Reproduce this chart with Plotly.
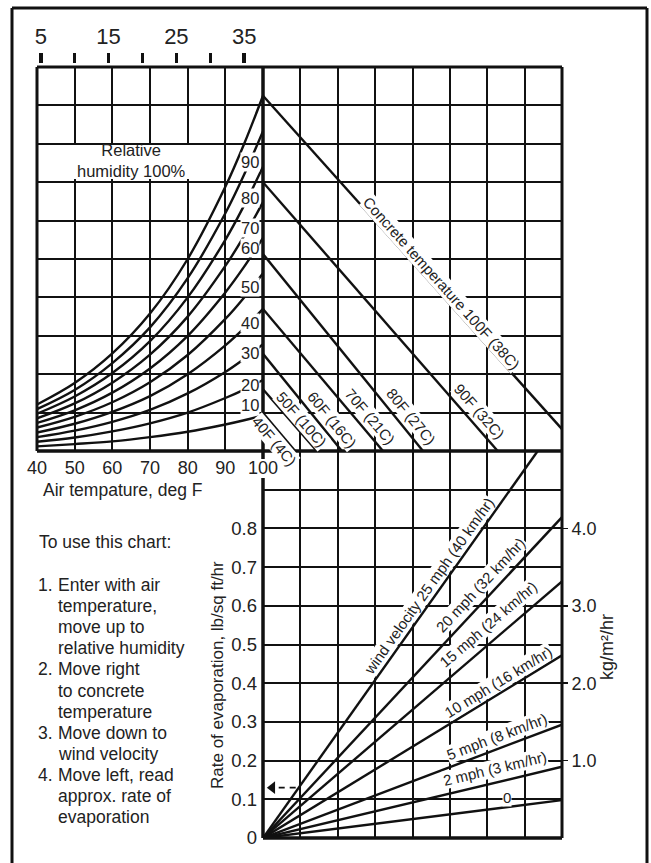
import math
import plotly.graph_objects as go

# ---------------- data ----------------
air_temp_f = [40, 50, 60, 70, 80, 90, 95, 100]          # deg F, upper-left x axis
air_ticks_f = [40, 50, 60, 70, 80, 90, 100]
celsius_ticks = [5, 10, 15, 20, 25, 30, 35]
celsius_labels = ["5", "", "15", "", "25", "", "35"]

# vapour-pressure curves (psi) for each relative humidity
vp_rh100 = [0.121, 0.177, 0.254, 0.358, 0.500, 0.688, 0.800, 0.925]
vp_rh90 = [0.109, 0.159, 0.229, 0.322, 0.450, 0.619, 0.720, 0.833]
vp_rh80 = [0.097, 0.142, 0.203, 0.286, 0.400, 0.550, 0.640, 0.740]
vp_rh70 = [0.085, 0.124, 0.178, 0.251, 0.350, 0.482, 0.560, 0.648]
vp_rh60 = [0.073, 0.106, 0.152, 0.215, 0.300, 0.413, 0.480, 0.555]
vp_rh50 = [0.061, 0.089, 0.127, 0.179, 0.250, 0.344, 0.400, 0.463]
vp_rh40 = [0.048, 0.071, 0.102, 0.143, 0.200, 0.275, 0.320, 0.370]
vp_rh30 = [0.036, 0.053, 0.076, 0.107, 0.150, 0.206, 0.240, 0.278]
vp_rh20 = [0.024, 0.035, 0.051, 0.072, 0.100, 0.138, 0.160, 0.185]
vp_rh10 = [0.012, 0.018, 0.025, 0.036, 0.050, 0.069, 0.080, 0.093]
rh_labels = ["90", "80", "70", "60", "50", "40", "30", "20", "10"]

# concrete temperature lines (start on 100F line, end on bottom / right edge)
concrete_labels = ["40F (4C)", "50F (10C)", "60F (16C)", "70F (21C)", "80F (27C)",
                   "90F (32C)", "Concrete temperature 100F (38C)"]
concrete_start_vp = [0.099, 0.161, 0.253, 0.370, 0.513, 0.700, 0.925]
concrete_end_col = [0.86, 1.44, 2.11, 3.21, 4.28, 6.28, 8.0]
concrete_end_vp = [0.0, 0.0, 0.0, 0.0, 0.0, 0.0, 0.057]

# wind velocity lines (lower chart), from origin
wind_labels = ["0", "2 mph (3 km/hr)", "5 mph (8 km/hr)", "10 mph (16 km/hr)",
               "15 mph (24 km/hr)", "20 mph (32 km/hr)", "wind velocity 25 mph (40 km/hr)"]
wind_end_col = [8.0, 8.0, 8.0, 8.0, 8.0, 8.0, 7.35]
wind_end_rate = [0.098, 0.184, 0.293, 0.472, 0.663, 0.829, 1.0]

rate_ticks = [0, 0.1, 0.2, 0.3, 0.4, 0.5, 0.6, 0.7, 0.8, 0.9, 1.0]
rate_labels = ["0", "0.1", "0.2", "0.3", "0.4", "0.5", "0.6", "0.7", "0.8", "", ""]
kg_ticks = [1, 2, 3, 4]
kg_labels = ["1.0", "2.0", "3.0", "4.0"]
example_rate = 0.13

instr_numbers = ["1.", "2.", "3.", "4."]
instr_lines = [["Enter with air", "temperature,", "move up to", "relative humidity"],
               ["Move right", "to concrete", "temperature"],
               ["Move down to", "wind velocity"],
               ["Move left, read", "approx. rate of", "evaporation"]]

# ---------------- layout constants ----------------
W, H = 651, 863
X_L, X_M, X_R = 37, 263, 562
Y_T, Y_M, Y_B = 67, 451, 838
FONT = "Liberation Sans, Arial, Helvetica, sans-serif"
INK = "#111111"
TXT = "#222222"


def fx(px):
    return px / W


def fy(py):
    return 1 - py / H


PX_PER_COL = (X_R - X_M) / 8.0
PX_PER_PSI = (Y_M - Y_T) / 1.0
PX_PER_RATE = (Y_B - Y_M) / 1.0

fig = go.Figure()

# RH curves
for vals in [vp_rh100, vp_rh90, vp_rh80, vp_rh70, vp_rh60, vp_rh50, vp_rh40, vp_rh30, vp_rh20, vp_rh10]:
    fig.add_trace(go.Scatter(x=air_temp_f, y=vals, mode="lines", xaxis="x", yaxis="y",
                             line=dict(color=INK, width=2.4, shape="spline"),
                             hoverinfo="skip", showlegend=False))

# concrete temperature lines
for s, ex, ev in zip(concrete_start_vp, concrete_end_col, concrete_end_vp):
    fig.add_trace(go.Scatter(x=[0, ex], y=[s, ev], mode="lines", xaxis="x2", yaxis="y",
                             line=dict(color=INK, width=2.4), hoverinfo="skip", showlegend=False))

# wind lines
for ex, er in zip(wind_end_col, wind_end_rate):
    fig.add_trace(go.Scatter(x=[0, ex], y=[0, er], mode="lines", xaxis="x2", yaxis="y2",
                             line=dict(color=INK, width=2.4), hoverinfo="skip", showlegend=False))

# example arrow (dashed) on the rate axis
fig.add_trace(go.Scatter(x=[0.42, 0.95], y=[example_rate, example_rate], mode="lines",
                         xaxis="x2", yaxis="y2", line=dict(color=INK, width=1.8, dash="6px,5px"),
                         hoverinfo="skip", showlegend=False))
fig.add_trace(go.Scatter(x=[0.25], y=[example_rate], mode="markers", xaxis="x2", yaxis="y2",
                         marker=dict(symbol="triangle-left", size=11, color=INK),
                         hoverinfo="skip", showlegend=False))

# invisible helpers so overlay axes are drawn
fig.add_trace(go.Scatter(x=[20], y=[0.5], mode="markers", xaxis="x3", yaxis="y",
                         marker=dict(opacity=0), hoverinfo="skip", showlegend=False))
fig.add_trace(go.Scatter(x=[4], y=[2], mode="markers", xaxis="x2", yaxis="y3",
                         marker=dict(opacity=0), hoverinfo="skip", showlegend=False))

grid = dict(showgrid=True, gridcolor=INK, gridwidth=2, zeroline=False, showline=False,
            automargin=False)

fig.update_layout(
    width=W, height=H, autosize=False,
    margin=dict(l=0, r=0, t=0, b=0, pad=0, autoexpand=False),
    paper_bgcolor="white", plot_bgcolor="white", showlegend=False,
    font=dict(family=FONT, color=TXT),
    xaxis=dict(domain=[fx(X_L), fx(X_M)], range=[40, 100], anchor="y",
               tickvals=air_ticks_f, ticktext=[str(v) for v in air_ticks_f],
               ticks="", ticklabelstandoff=4, tickfont=dict(size=18, color=TXT), **grid),
    yaxis=dict(domain=[fy(Y_M), fy(Y_T)], range=[0, 1.0], anchor="x",
               tickvals=[0.1 * i for i in range(1, 10)], showticklabels=False, ticks="", **grid),
    xaxis2=dict(domain=[fx(X_M), fx(X_R)], range=[0, 8], anchor="y2",
                tickvals=list(range(1, 8)), showticklabels=False, ticks="", **grid),
    yaxis2=dict(domain=[fy(Y_B), fy(Y_M)], range=[0, 1.0], anchor="x2",
                tickvals=rate_ticks, ticktext=rate_labels, ticks="", ticklabelstandoff=5,
                tickfont=dict(size=18.5, color=TXT), **grid),
    xaxis3=dict(overlaying="x", range=[(40 - 32) / 1.8, (100 - 32) / 1.8], side="top",
                anchor="free", position=fy(63), tickvals=celsius_ticks, ticktext=celsius_labels,
                ticks="outside", ticklen=10, tickwidth=3.5, tickcolor=INK, automargin=False,
                tickfont=dict(size=22, color=TXT), showgrid=False, zeroline=False, showline=False),
    yaxis3=dict(overlaying="y2", side="right", anchor="x2", range=[0, 5.0],
                tickvals=kg_ticks, ticktext=kg_labels, ticks="outside", ticklen=5, tickwidth=1.5,
                tickcolor=INK, tickfont=dict(size=18, color=TXT), automargin=False,
                showgrid=False, zeroline=False, showline=False),
)

shapes = []


def pline(x0, y0, x1, y1, w=3):
    shapes.append(dict(type="line", xref="paper", yref="paper", x0=fx(x0), y0=fy(y0),
                       x1=fx(x1), y1=fy(y1), line=dict(color=INK, width=w)))


# white patch behind "Relative humidity 100%"
shapes.append(dict(type="rect", xref="paper", yref="paper", x0=fx(66), x1=fx(203),
                   y0=fy(179), y1=fy(145), fillcolor="white", line=dict(width=0), layer="above"))
# outer frame
pline(12, 8, 12, 863, 3)
pline(12, 8, 647, 8, 3)
pline(647, 8, 647, 863, 3)
# upper chart border
pline(X_L, Y_T, X_R, Y_T, 3)
pline(X_L, Y_T, X_L, Y_M, 3)
pline(X_R, Y_T, X_R, Y_M, 3)
pline(X_L, Y_M, X_R, Y_M, 3.5)
# 100F line (with tick below)
pline(X_M, Y_T, X_M, 459, 3.5)
# lower chart border
pline(X_M, 478, X_M, Y_B, 3.5)
pline(X_M, Y_B, X_R, Y_B, 3.5)
pline(X_R, Y_M, X_R, Y_B, 3)
fig.update_layout(shapes=shapes)

ann = []


def note(text, x, y, xref, yref, size, angle=0, bg=None, xanchor="center", align="center"):
    d = dict(text=text, x=x, y=y, xref=xref, yref=yref, showarrow=False, textangle=angle,
             font=dict(size=size, color=TXT, family=FONT), xanchor=xanchor, yanchor="middle",
             align=align, borderpad=0)
    if bg:
        d["bgcolor"] = bg
    ann.append(d)


# relative humidity title
note("Relative<br>humidity 100%", fx(131), fy(160), "paper", "paper", 16.5)
# RH value labels (on curves, white background)
rh_label_vp = [0.753, 0.659, 0.581, 0.529, 0.427, 0.333, 0.255, 0.172, 0.119]
for lab, v in zip(rh_labels, rh_label_vp):
    note(lab, 96.6, v, "x", "y", 16.5, bg="white")

# concrete labels
concrete_label_pos = [(0.32, 0.026), (1.04, 0.083), (1.84, 0.081), (2.86, 0.089),
                      (3.96, 0.089), (5.80, 0.104), (4.79, 0.4375)]
for lab, (lx, ly), s, ex, ev in zip(concrete_labels, concrete_label_pos, concrete_start_vp,
                                     concrete_end_col, concrete_end_vp):
    ang = math.degrees(math.atan2((s - ev) * PX_PER_PSI, ex * PX_PER_COL))
    note(lab, lx, ly, "x2", "y", 15, angle=ang, bg="white")

# wind labels
wind_label_pos = [(6.52, 0.104), (6.20, 0.179), (6.26, 0.262), (6.31, 0.404),
                  (6.02, 0.552), (5.83, 0.655), (4.44, 0.653)]
for i, (lab, (lx, ly), ex, er) in enumerate(zip(wind_labels, wind_label_pos, wind_end_col, wind_end_rate)):
    ang = 0 if i == 0 else -math.degrees(math.atan2(er * PX_PER_RATE, ex * PX_PER_COL))
    note(lab, lx, ly, "x2", "y2", 15, angle=ang, bg="white")

# axis titles
note("Air tempature, deg F", fx(42), fy(490), "paper", "paper", 17.5, xanchor="left")
note("Rate of evaporation, lb/sq ft/hr", fx(217), fy(675), "paper", "paper", 17, angle=-90)
note("kg/m\u00b2/hr", fx(607), fy(647), "paper", "paper", 18, angle=-90)

# instructions
note("To use this chart:", fx(38), fy(542), "paper", "paper", 17.5, xanchor="left")
row = 0
for num, lines in zip(instr_numbers, instr_lines):
    note(num, fx(37), fy(585 + 21.1 * row), "paper", "paper", 17.5, xanchor="left")
    for ln in lines:
        note(ln, fx(57), fy(585 + 21.1 * row), "paper", "paper", 17.5, xanchor="left")
        row += 1

fig.update_layout(annotations=ann)
# place the fixed-size figure flush with the page corner
fig.write_html("out.html", config={"displayModeBar": False, "staticPlot": True},
               post_script="document.body.style.margin='0';document.body.style.overflow='hidden';")
